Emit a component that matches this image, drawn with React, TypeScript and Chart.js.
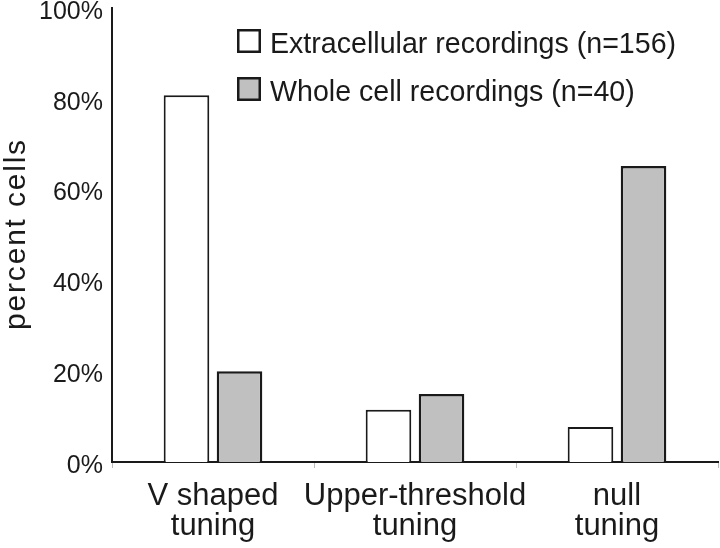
import React, { useEffect, useRef } from "react";
import { Chart, registerables } from "chart.js";

Chart.register(...registerables);

const categories: string[][] = [["V shaped", "tuning"], ["Upper-threshold", "tuning"], ["null", "tuning"]];
const extracellular: number[] = [80.8, 11.5, 7.7];
const wholeCell: number[] = [20.0, 15.0, 65.2];
const seriesLabels: string[] = ["Extracellular recordings (n=156)", "Whole cell recordings (n=40)"];
const yAxisTitle = "percent cells";
const yMin = 0;
const yMax = 100;
const yStep = 20;

const FONT = "'Liberation Sans', Arial, Helvetica, sans-serif";
const INK = "#1a1a1a";
const GRAY = "#c0c0c0";

const overlayPlugin = {
  id: "overlay",
  afterDraw(chart: any) {
    const ctx: CanvasRenderingContext2D = chart.ctx;
    ctx.save();
    // y-axis title
    ctx.fillStyle = INK;
    ctx.font = `30px ${FONT}`;
    (ctx as any).letterSpacing = "1.8px";
    ctx.textAlign = "center";
    ctx.textBaseline = "alphabetic";
    ctx.translate(25, 234);
    ctx.rotate(-Math.PI / 2);
    ctx.fillText(yAxisTitle, 0, 0);
    ctx.restore();

    // legend
    ctx.save();
    (ctx as any).letterSpacing = "0px";
    const rows = chart.data.datasets.map((ds: any) => ({
      label: ds.label,
      fill: ds.backgroundColor,
      stroke: ds.borderColor,
    }));
    rows.forEach((r: any, i: number) => {
      const top = 29 + i * 48;
      ctx.fillStyle = r.fill;
      ctx.fillRect(237, top, 24, 24);
      ctx.strokeStyle = r.stroke;
      ctx.lineWidth = 2.5;
      ctx.strokeRect(238.25, top + 1.25, 21.5, 21.5);
      ctx.fillStyle = INK;
      ctx.font = `28.6px ${FONT}`;
      ctx.textAlign = "left";
      ctx.textBaseline = "alphabetic";
      ctx.fillText(r.label, 270, top + 24);
    });
    ctx.restore();
  },
};

export default function App() {
  const ref = useRef<HTMLCanvasElement | null>(null);

  useEffect(() => {
    if (!ref.current) return;
    const chart = new Chart(ref.current, {
      type: "bar",
      data: {
        labels: categories,
        datasets: [
          {
            label: seriesLabels[0],
            data: extracellular,
            backgroundColor: "#ffffff",
            borderColor: INK,
            borderWidth: 2,
          },
          {
            label: seriesLabels[1],
            data: wholeCell,
            backgroundColor: GRAY,
            borderColor: INK,
            borderWidth: 2.5,
          },
        ],
      },
      options: {
        responsive: false,
        animation: false,
        layout: { padding: { top: 8, right: 2, left: 0, bottom: 0 } },
        datasets: {
          bar: {
            categoryPercentage: 0.525,
            barPercentage: 0.86,
          },
        },
        plugins: {
          legend: { display: false },
          title: { display: false },
          tooltip: { enabled: false },
        },
        scales: {
          x: {
            grid: {
              display: true,
              drawOnChartArea: false,
              drawTicks: true,
              tickLength: 6,
              color: "#bbbbbb",
              lineWidth: 1,
              offset: true,
            },
            border: { display: true, color: INK, width: 2 },
            ticks: {
              color: INK,
              padding: 13,
              maxRotation: 0,
              autoSkip: false,
              font: { family: FONT, size: 31, lineHeight: 0.97 },
            },
            afterFit(scale: any) {
              scale.height = 86;
              scale.paddingLeft = 0;
              scale.paddingRight = 0;
            },
          },
          y: {
            min: yMin,
            max: yMax,
            grid: { display: false, drawTicks: false },
            border: { display: true, color: INK, width: 2 },
            ticks: {
              stepSize: yStep,
              color: INK,
              padding: 9,
              labelOffset: 4,
              font: { family: FONT, size: 25 },
              callback: (v: any) => `${v}%`,
            },
            afterFit(scale: any) {
              scale.width = 112;
              scale.paddingTop = 0;
              scale.paddingBottom = 0;
            },
          },
        },
      },
      plugins: [overlayPlugin],
    });
    return () => chart.destroy();
  }, []);

  return (
    <div style={{ position: "fixed", left: 0, top: 0, width: 720, height: 548, background: "#fff" }}>
      <canvas ref={ref} width={720} height={548} style={{ display: "block", width: 720, height: 548 }} />
    </div>
  );
}
